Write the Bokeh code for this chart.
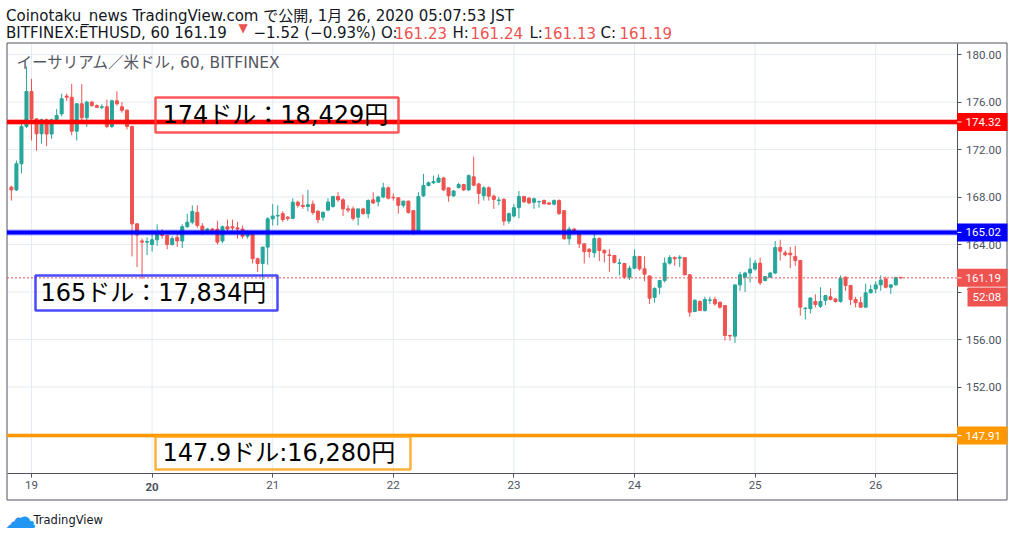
from bokeh.plotting import figure
from bokeh.models import (Range1d, FixedTicker, NumeralTickFormatter, Label,
                          ColumnDataSource)
from bokeh.embed import file_html
from bokeh.resources import INLINE
from bokeh.core.properties import value

# ---------------- data ----------------
# hour index relative to Jan 19 00:00 (60-minute candles)
hours = list(range(-4, 174))

opens = [
    168.83, 168.60, 170.80, 173.94, 176.88, 174.58, 173.32, 174.50, 173.30, 174.50,
    175.00, 176.50, 176.40, 173.54, 175.85, 174.67, 175.99, 175.70, 175.55, 175.60,
    173.94, 176.10, 175.60, 175.30, 173.94, 165.74, 164.30, 164.20, 164.00, 164.40,
    165.10, 164.76, 164.00, 164.60, 164.30, 165.50, 165.88, 166.70, 165.55, 165.20,
    165.30, 165.30, 164.30, 165.50, 165.50, 165.40, 165.30, 164.70, 165.00, 162.80,
    162.40, 163.78, 166.16, 166.40, 166.60, 166.30, 166.20, 167.56, 167.30, 167.20,
    167.40, 166.80, 166.30, 166.90, 167.20, 168.04, 167.76, 167.00, 167.00, 166.30,
    167.00, 166.60, 167.76, 167.60, 168.00, 168.77, 167.98, 167.93, 167.30, 167.65,
    166.85, 165.04, 168.10, 168.97, 169.20, 169.25, 169.60, 168.77, 168.10, 168.80,
    169.05, 168.60, 169.70, 169.10, 168.10, 168.77, 168.07, 167.70, 167.80, 165.97,
    166.40, 167.10, 168.04, 167.90, 167.56, 167.60, 167.70, 167.50, 167.40, 167.70,
    166.85, 164.48, 165.30, 164.90, 164.06, 163.60, 163.30, 164.50, 163.50, 163.12,
    163.08, 162.40, 162.40, 161.25, 162.00, 163.00, 161.95, 161.35, 159.55, 160.40,
    160.97, 162.43, 162.90, 162.85, 162.90, 161.45, 158.36, 159.20, 158.44, 159.30,
    159.37, 159.14, 158.86, 156.34, 156.28, 160.60, 161.25, 161.60, 161.93, 162.43,
    160.97, 161.25, 161.60, 163.75, 163.30, 163.27, 163.00, 162.65, 158.60, 158.60,
    159.20, 158.80, 159.30, 159.60, 159.42, 159.20, 161.25, 160.55, 159.37, 159.10,
    158.72, 159.93, 160.26, 160.60, 161.10, 160.40, 160.60, 161.23,
]
highs = [
    168.95, 171.07, 174.50, 179.00, 177.95, 174.60, 174.60, 174.60, 174.60, 175.40,
    176.70, 176.70, 177.53, 175.90, 177.50, 176.10, 176.10, 175.80, 175.80, 176.20,
    176.20, 176.90, 176.00, 175.40, 174.00, 165.80, 164.50, 164.60, 164.90, 165.70,
    165.30, 164.80, 164.70, 164.90, 165.70, 166.60, 167.30, 167.30, 165.80, 165.40,
    165.40, 166.00, 165.60, 166.10, 166.10, 165.90, 165.60, 165.20, 165.10, 162.90,
    163.80, 166.30, 167.40, 167.30, 166.80, 166.40, 167.90, 167.70, 168.20, 168.60,
    167.70, 166.90, 166.80, 167.90, 168.10, 168.40, 167.90, 167.30, 167.20, 167.00,
    167.10, 167.80, 168.40, 168.10, 169.20, 168.90, 168.30, 168.00, 167.70, 167.70,
    166.90, 168.40, 169.95, 169.30, 169.80, 169.90, 169.70, 168.80, 168.60, 169.20,
    169.10, 169.90, 171.40, 169.20, 168.90, 168.90, 168.20, 168.00, 167.90, 166.70,
    167.40, 168.50, 168.10, 168.00, 167.95, 167.70, 167.80, 167.60, 167.80, 167.80,
    166.90, 165.50, 165.40, 165.00, 164.10, 163.70, 165.00, 164.60, 163.60, 163.60,
    163.10, 162.80, 162.45, 162.20, 163.60, 163.00, 163.00, 161.40, 160.40, 161.00,
    162.90, 163.10, 163.00, 163.10, 162.90, 161.50, 159.40, 159.30, 159.60, 159.60,
    159.60, 159.20, 158.90, 156.40, 160.60, 161.70, 161.70, 162.90, 162.70, 162.90,
    161.30, 161.70, 164.30, 164.40, 163.50, 163.80, 163.90, 162.70, 158.72, 159.50,
    159.80, 160.40, 159.70, 160.30, 159.45, 161.40, 161.30, 160.60, 159.60, 159.60,
    160.70, 160.60, 160.90, 161.40, 161.30, 160.65, 161.25, 161.24,
]
lows = [
    167.70, 168.50, 170.00, 173.80, 172.76, 171.90, 172.50, 172.30, 172.90, 174.40,
    174.80, 176.10, 173.20, 172.76, 174.30, 173.90, 175.60, 175.50, 175.40, 173.80,
    173.80, 175.70, 175.10, 173.70, 163.00, 162.10, 161.10, 163.10, 163.40, 163.90,
    164.50, 163.60, 163.90, 163.80, 163.70, 165.40, 165.70, 165.40, 164.80, 165.10,
    165.10, 164.00, 164.10, 165.10, 165.20, 164.50, 164.50, 164.50, 162.40, 161.70,
    161.00, 162.30, 165.60, 165.60, 165.90, 166.00, 166.20, 167.10, 167.00, 166.80,
    166.50, 165.80, 166.00, 166.80, 167.10, 167.60, 166.40, 166.70, 166.00, 165.60,
    166.50, 166.20, 167.40, 167.20, 167.90, 167.80, 167.70, 166.60, 167.10, 166.60,
    164.80, 165.00, 168.00, 168.90, 169.10, 169.20, 168.50, 167.60, 168.00, 168.70,
    168.50, 168.50, 168.90, 167.40, 167.70, 167.70, 167.00, 167.30, 165.60, 165.75,
    166.30, 166.20, 167.50, 167.40, 167.00, 167.10, 167.40, 167.35, 167.30, 166.50,
    164.40, 164.00, 165.00, 163.70, 162.40, 162.90, 162.90, 162.60, 162.50, 161.70,
    162.40, 161.40, 161.10, 161.00, 161.95, 161.80, 160.90, 159.00, 159.10, 159.80,
    160.80, 162.30, 162.20, 162.10, 161.40, 157.90, 158.30, 158.40, 158.35, 159.00,
    158.85, 158.60, 155.90, 155.90, 155.70, 160.10, 160.00, 160.80, 161.80, 160.60,
    160.90, 161.20, 161.50, 162.65, 163.00, 162.00, 162.20, 158.00, 157.70, 158.20,
    158.70, 158.65, 158.90, 159.30, 159.10, 159.10, 160.10, 158.90, 158.70, 158.70,
    158.70, 159.90, 159.90, 160.10, 160.30, 159.85, 160.55, 161.13,
]
closes = [
    168.60, 170.80, 173.94, 176.88, 174.58, 173.32, 174.50, 173.30, 174.50, 174.86,
    176.27, 176.40, 173.54, 175.85, 174.67, 175.99, 175.70, 175.55, 175.60, 173.94,
    176.10, 175.85, 175.30, 173.94, 165.74, 164.80, 164.20, 164.25, 164.40, 164.90,
    164.76, 164.00, 164.50, 164.30, 165.50, 165.88, 166.78, 165.60, 165.20, 165.30,
    165.20, 164.20, 165.50, 165.30, 165.40, 165.30, 164.70, 165.00, 162.80, 162.40,
    163.78, 166.16, 166.40, 166.45, 166.10, 166.20, 167.56, 167.30, 167.20, 167.35,
    166.70, 166.10, 166.70, 167.57, 168.04, 167.76, 167.00, 166.90, 166.20, 167.00,
    166.60, 167.70, 167.50, 168.00, 168.77, 167.90, 167.93, 167.30, 167.65, 166.70,
    165.04, 168.04, 168.97, 169.20, 169.30, 169.60, 168.60, 168.10, 168.50, 169.05,
    168.60, 169.80, 169.00, 168.30, 168.77, 168.07, 167.80, 167.75, 165.97, 166.60,
    167.10, 168.04, 167.60, 167.50, 167.85, 167.62, 167.42, 167.40, 167.70, 166.60,
    164.48, 165.30, 165.05, 164.06, 163.40, 163.40, 164.50, 163.50, 163.30, 163.08,
    162.50, 162.45, 161.25, 162.00, 163.00, 161.95, 161.50, 159.48, 160.30, 160.97,
    162.43, 162.90, 162.80, 162.93, 161.45, 158.30, 159.30, 158.44, 159.37, 159.33,
    159.00, 158.72, 156.34, 156.30, 160.60, 161.45, 161.60, 161.93, 162.43, 160.77,
    161.30, 161.60, 163.75, 163.44, 163.13, 163.13, 162.65, 158.72, 158.64, 159.50,
    158.95, 159.20, 159.70, 159.37, 159.20, 161.17, 160.55, 159.37, 159.10, 158.72,
    159.93, 160.20, 160.60, 161.00, 160.40, 160.60, 161.23, 161.19,
]

day_ticks = [0, 24, 48, 72, 96, 120, 144, 168]
day_labels = ["19", "20", "21", "22", "23", "24", "25", "26"]
bold_day = "20"
price_ticks = [148, 152, 156, 160, 164, 168, 172, 176, 180]

level_prices = [174.32, 165.02, 147.91]
level_colors = ["#ff0000", "#0000ff", "#ff9800"]
level_widths = [4, 4, 3]

box_texts = ["174ドル：18,429円", "165ドル：17,834円", "147.9ドル:16,280円"]
box_colors = ["#ff3b3b", "#2a2aff", "#ffa31a"]

last_price = 161.19
countdown = "52:08"
header_line1 = "Coinotaku_news TradingView.com で公開, 1月 26, 2020 05:07:53 JST"
header_line2 = ["BITFINEX:ETHUSD, 60 161.19", "▼", "−1.52 (−0.93%) O:", "161.23",
                "H:", "161.24", "L:", "161.13", "C:", "161.19"]
chart_title = "イーサリアム／米ドル, 60, BITFINEX"

# ---------------- styling / geometry ----------------
UP, DOWN = "#26a69a", "#ef5350"
AX = "#50535e"
TXT = "#4c525e"
GRID = "#e4ecf2"
FONT = "DejaVu Sans, Noto Sans CJK JP"
AXFONT = "Roboto"
W, H = 1012, 535
PX_PER_PRICE = 11.875


def px2x(px):  # canvas pixel -> hour index
    return (px - 31.0) / 5.025


def py2y(py):  # canvas pixel -> price
    return 180.0 - (py - 54.0) / PX_PER_PRICE


# chart area (pane) and widget edges, canvas pixels
PANE_L, PANE_R, PANE_T, PANE_B = 6.5, 956.5, 42.5, 472.5
WIDGET_R, WIDGET_B = 1006.5, 499.5

p = figure(width=W, height=H, output_backend="svg", toolbar_location=None,
           x_range=Range1d(px2x(0), px2x(W)), y_range=Range1d(py2y(H), py2y(0)),
           y_axis_location="right", min_border=0,
           background_fill_color="white", border_fill_color="white")
p.outline_line_color = None
p.grid.visible = False

# grid (chart pane only), from the tick lists
p.segment(x0=day_ticks, y0=[py2y(PANE_B)] * len(day_ticks), x1=day_ticks,
          y1=[py2y(PANE_T)] * len(day_ticks), line_color=GRID, line_width=1)
p.segment(x0=[px2x(PANE_L)] * len(price_ticks), y0=price_ticks,
          x1=[px2x(PANE_R)] * len(price_ticks), y1=price_ticks,
          line_color=GRID, line_width=1)

# widget frame
p.quad(left=[px2x(PANE_L)], right=[px2x(WIDGET_R)], top=[py2y(PANE_T)],
       bottom=[py2y(WIDGET_B)], fill_color=None, line_color=AX, line_width=1)

# axes (fixed inside the canvas)
yt = FixedTicker(ticks=price_ticks)
yax = p.yaxis[0]
yax.ticker = yt
yax.formatter = NumeralTickFormatter(format="0.00")
yax.fixed_location = px2x(PANE_R)
yax.bounds = (py2y(WIDGET_B), py2y(PANE_T))
xt = FixedTicker(ticks=day_ticks)
xax = p.xaxis[0]
xax.ticker = xt
xax.major_label_overrides = {t: ("" if lab == bold_day else lab)
                             for t, lab in zip(day_ticks, day_labels)}
xax.fixed_location = py2y(PANE_B)
xax.bounds = (px2x(PANE_L), px2x(PANE_R))
for ax, so in ((yax, 5), (xax, 4)):
    ax.axis_line_color = AX
    ax.major_tick_line_color = AX
    ax.minor_tick_line_color = None
    ax.major_tick_out = 4
    ax.major_tick_in = 0
    ax.major_label_standoff = so
    ax.major_label_text_color = TXT
    ax.major_label_text_font = AXFONT
    ax.major_label_text_font_size = "11.5px"

# candles
src = ColumnDataSource(dict(
    h=hours, o=opens, hi=highs, lo=lows, c=closes,
    top=[max(o, c) for o, c in zip(opens, closes)],
    bot=[min(o, c) for o, c in zip(opens, closes)],
    col=[UP if c >= o else DOWN for o, c in zip(opens, closes)],
))
p.segment(x0="h", y0="lo", x1="h", y1="hi", line_color="col", line_width=1, source=src)
p.vbar(x="h", width=0.6, top="top", bottom="bot", fill_color="col", line_color="col",
       line_width=1, source=src)

# horizontal levels
nl = len(level_prices)
p.segment(x0=[px2x(PANE_L)] * nl, y0=level_prices, x1=[px2x(PANE_R)] * nl,
          y1=level_prices, line_color=level_colors,
          line_width=[w + 2 for w in level_widths], line_alpha=0.3)
p.segment(x0=[px2x(PANE_L)] * nl, y0=level_prices, x1=[px2x(PANE_R)] * nl,
          y1=level_prices, line_color=level_colors, line_width=level_widths)
p.segment(x0=[px2x(PANE_L)], y0=[last_price], x1=[px2x(PANE_R)], y1=[last_price],
          line_color=DOWN, line_width=1, line_dash="2 2")

# text boxes (drawings)
box_l = [px2x(155), px2x(35), px2x(155)]
box_r = [px2x(398), px2x(277), px2x(410)]
box_t = [py2y(97), py2y(275), py2y(436)]
box_b = [py2y(132), py2y(310), py2y(469)]
p.quad(left=box_l, right=box_r, top=box_t, bottom=box_b, fill_alpha=0,
       line_color=box_colors, line_width=2.5, line_alpha=0.85)
p.text(x=[px2x(162), px2x(40), px2x(162)], y=[py2y(114.5), py2y(292.5), py2y(452)],
       text=box_texts, text_font=value(FONT), text_font_size="24px",
       text_baseline="middle", text_align="left", text_color="black")

# chart title
p.add_layout(Label(x=px2x(16), y=py2y(62.5), text=chart_title, text_font=FONT,
                   text_font_size="15.5px", text_color="#555862",
                   text_baseline="middle", text_align="left"))

# bold day label
p.add_layout(Label(x=day_ticks[day_labels.index(bold_day)], y=py2y(486.5), text=bold_day,
                   text_font=AXFONT, text_font_size="11.5px", text_font_style="bold",
                   text_color=TXT, text_align="center", text_baseline="middle"))

# price tags on the price scale (drawn above the axis labels)
tag_prices = [level_prices[0], level_prices[1], last_price, level_prices[2]]
tag_colors = ["#ff0000", "#0000ff", DOWN, "#ff9800"]
half = 9.0 / PX_PER_PRICE
nt = len(tag_prices)
p.quad(left=[px2x(956.5)] * nt, right=[px2x(1007)] * nt,
       top=[v + half for v in tag_prices], bottom=[v - half for v in tag_prices],
       fill_color=tag_colors, line_color=None, level="annotation")
p.segment(x0=[px2x(957)] * nt, y0=tag_prices, x1=[px2x(961)] * nt, y1=tag_prices,
          line_color="white", line_width=1, level="annotation")
p.text(x=[px2x(965)] * nt, y=tag_prices, text=[f"{v:.2f}" for v in tag_prices],
       text_font=value(AXFONT), text_font_size="11.5px", text_color="white",
       text_align="left", text_baseline="middle", level="annotation")
cd_y = py2y(296.5)
p.quad(left=[px2x(967)], right=[px2x(1007)], top=[cd_y + 9.5 / PX_PER_PRICE],
       bottom=[cd_y - 9.5 / PX_PER_PRICE], fill_color=DOWN, line_color=None,
       level="annotation")
p.text(x=[px2x(972)], y=[cd_y], text=[countdown], text_font=value(AXFONT),
       text_font_size="11.5px", text_color="white", text_align="left",
       text_baseline="middle", level="annotation")

# header
p.add_layout(Label(x=px2x(5.5), y=py2y(15), text=header_line1, text_font=FONT,
                   text_font_size="15px", text_color="#131722",
                   text_baseline="middle", text_align="left"))
seg_x = [5.5, 238, 253, 394, 452, 470, 529, 543, 600, 619]
seg_y = [32.5, 27.5] + [32.5] * 8
seg_col = ["#131722", DOWN, "#131722", DOWN, "#131722", DOWN, "#131722", DOWN,
           "#131722", DOWN]
seg_size = ["15px", "12px"] + ["15px"] * 8
for txt, sx, sy, sc, ss in zip(header_line2, seg_x, seg_y, seg_col, seg_size):
    p.add_layout(Label(x=px2x(sx), y=py2y(sy), text=txt, text_font=FONT,
                       text_font_size=ss, text_color=sc,
                       text_baseline="middle", text_align="left"))

# footer logo
p.add_layout(Label(x=px2x(4), y=py2y(516), text="☁", text_font="DejaVu Sans",
                   text_font_size="32px", text_color="#2196f3",
                   text_baseline="middle", text_align="left"))
p.add_layout(Label(x=px2x(33), y=py2y(519), text="TradingView", text_font="DejaVu Sans",
                   text_font_size="11.5px", text_color="#131722",
                   text_baseline="middle", text_align="left"))

open("out.html", "w").write(file_html(p, INLINE))
